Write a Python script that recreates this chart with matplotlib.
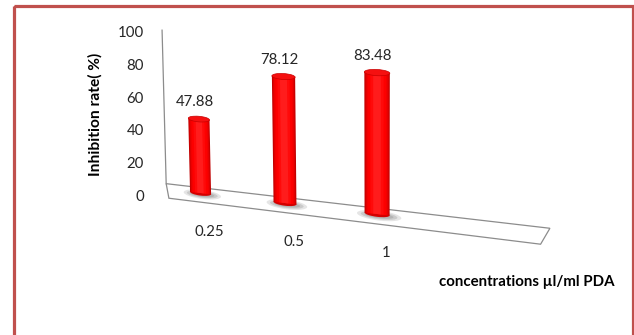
import numpy as np
import matplotlib
matplotlib.use("Agg")
import matplotlib.pyplot as plt
from matplotlib import transforms as mtransforms
from matplotlib.patches import Ellipse, Polygon, Rectangle

# ---------------- data ----------------
categories = ["0.25", "0.5", "1"]
inhibition = [47.88, 78.12, 83.48]
y_ticks = [0, 20, 40, 60, 80, 100]
y_label = "Inhibition rate( %)"
x_label = "concentrations \u00b5l/ml PDA"

plt.rcParams["font.family"] = ["Lato", "DejaVu Sans"]

W, H = 634, 335
fig = plt.figure(figsize=(W / 100, H / 100), dpi=100)
fig.patch.set_facecolor("white")
ax = fig.add_axes([0, 0, 1, 1])
ax.set_xlim(0, W)
ax.set_ylim(H, 0)
ax.axis("off")


# ---------- perspective projection (category, value) -> pixel ----------
class Homography(mtransforms.Transform):
    input_dims = 2
    output_dims = 2
    is_separable = False
    has_inverse = True

    def __init__(self, M):
        super().__init__()
        self.M = np.asarray(M, float)

    def transform_non_affine(self, xy):
        xy = np.asarray(xy, float).reshape(-1, 2)
        p = np.column_stack([xy, np.ones(len(xy))]) @ self.M.T
        return p[:, :2] / p[:, 2:3]

    def inverted(self):
        return Homography(np.linalg.inv(self.M))


def fit_homography(src, dst):
    A, b = [], []
    for (x, y), (u, v) in zip(src, dst):
        A.append([x, y, 1, 0, 0, 0, -u * x, -u * y]); b.append(u)
        A.append([0, 0, 0, x, y, 1, -v * x, -v * y]); b.append(v)
    h = np.linalg.solve(np.array(A, float), np.array(b, float))
    return np.append(h, 1).reshape(3, 3)


# plane of the bars: anchors of the 3-D view
M = fit_homography([(0, 0), (2, 0), (0, 100), (2, 100)],
                   [(200.5, 193), (377, 214), (197, 37), (377, 44)])
P = Homography(M)
T = P + ax.transData

# ---------------- floor ----------------
back_v, front_v = 3.5, -6.0
i_left_b, i_right_b = -0.43, 3.66
i_left_f, i_right_f = -0.40, 3.58
floor = Polygon([(i_left_b, back_v), (i_right_b, back_v),
                 (i_right_f, front_v), (i_left_f, front_v)],
                closed=True, facecolor="white", edgecolor="#8c8c8c",
                lw=0.9, transform=T, clip_on=False, zorder=1)
ax.add_patch(floor)
# vertical axis line
ax.plot([i_left_b, i_left_b], [back_v, 100 + back_v], color="#8c8c8c",
        lw=0.9, transform=T, clip_on=False, zorder=1)

# ---------------- cylinders ----------------
x = np.arange(len(categories))
bw = 0.26
# base shadows
for k, (sw, sh, a) in enumerate([(0.46, 6.0, 0.25), (0.38, 4.5, 0.35), (0.30, 3.2, 0.45)]):
    for xi in x:
        ax.add_patch(Ellipse((xi + 0.02, -0.8), sw, sh, facecolor="#9a9a9a",
                             edgecolor="none", alpha=a, transform=T,
                             clip_on=False, zorder=2))
# rounded bottoms
for xi in x:
    ax.add_patch(Ellipse((xi, 0), bw, 3.4, facecolor="#d40000",
                         edgecolor="none", transform=T, clip_on=False, zorder=3))
# body with horizontal shading (layers from outside to inside)
layers = [(1.00, "#c00000"), (0.92, "#de0000"), (0.82, "#f20000"),
          (0.70, "#fd0000"), (0.52, "#ff0a0a"), (0.30, "#ff1c1c")]
for frac, col in layers:
    ax.bar(x, inhibition, width=bw * frac, color=col, edgecolor="none",
           transform=T, clip_on=False, zorder=4)
# top caps
for xi, v in zip(x, inhibition):
    ax.add_patch(Ellipse((xi, v), bw, 3.6, facecolor="#f51010",
                         edgecolor="#c80000", lw=0.5, transform=T,
                         clip_on=False, zorder=5))

# value labels
for xi, v in zip(x, inhibition):
    ax.annotate(f"{v:.2f}", xy=(xi, v), xycoords=T, xytext=(-4, 17),
                textcoords="offset pixels", ha="center", va="center",
                fontsize=10.8, color="#262626", zorder=6)

# category labels
for xi, lab in zip(x, categories):
    ax.annotate(lab, xy=(xi, 0), xycoords=T, xytext=(9, -39),
                textcoords="offset pixels", ha="center", va="center",
                fontsize=10.8, color="#262626", zorder=6)

# value-axis tick labels
tick_tr = mtransforms.Affine2D().scale(1, -1.64).translate(144, 197) + ax.transData
for t in y_ticks:
    ax.text(0, t, f"{t}", transform=tick_tr, ha="right", va="center",
            fontsize=10.8, color="#262626")

# axis titles
ax.text(95, 114.5, y_label, rotation=90, ha="center", va="center",
        fontsize=11.2, fontweight="bold", color="black")
ax.text(527, 282, x_label, ha="center", va="center",
        fontsize=10.8, fontweight="bold", color="black")

# outer border
ax.add_patch(Rectangle((13.5, 5.5), 619, 340, fill=False,
                       edgecolor="#c0504d", lw=2.3, clip_on=False, zorder=10))

fig.savefig("out.png", dpi=100, facecolor="white")
